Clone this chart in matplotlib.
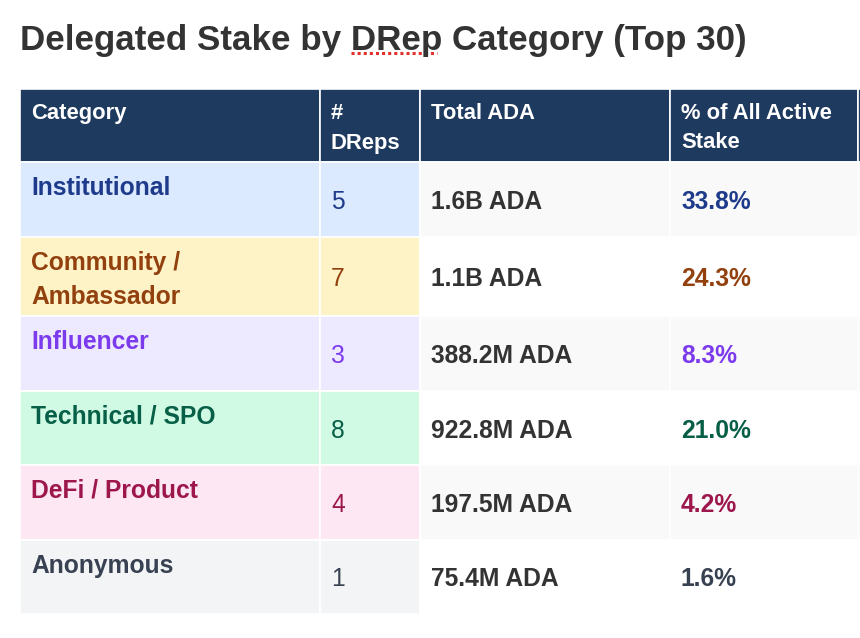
import matplotlib.pyplot as plt
from matplotlib.patches import Rectangle

plt.rcParams['font.family'] = ['Liberation Sans', 'DejaVu Sans']

# table data
categories = ["Institutional", "Community /\nAmbassador", "Influencer",
              "Technical / SPO", "DeFi / Product", "Anonymous"]
drep_counts = [5, 7, 3, 8, 4, 1]
total_ada = [1.6e9, 1.1e9, 388.2e6, 922.8e6, 197.5e6, 75.4e6]
pct_stake = [33.8, 24.3, 8.3, 21.0, 4.2, 1.6]
headers = ["Category", "#\nDReps", "Total ADA", "% of All Active\nStake", ""]

text_colors = ["#1e3a8a", "#92400e", "#7c3aed", "#065f46", "#9d174d", "#374151"]
bg_colors = ["#dbeafe", "#fef3c7", "#ede9fe", "#d1fae5", "#fce7f3", "#f3f4f6"]
header_bg = "#1e3a5f"
dark = "#333333"


def fmt_ada(v):
    if v >= 1e9:
        return f"{v / 1e9:.1f}B ADA"
    return f"{v / 1e6:.1f}M ADA"


W, H = 860, 638
fig = plt.figure(figsize=(W / 100, H / 100), dpi=100)
ax = fig.add_axes([0, 0, 1, 1])
ax.set_xlim(0, W)
ax.set_ylim(H, 0)
ax.axis("off")

# title + spellcheck squiggle under "DRep"
ax.text(20, 50, "Delegated Stake by DRep Category (Top 30)", fontsize=25.2,
        fontweight="bold", color=dark, va="baseline")
ax.plot([351, 437], [52.5, 52.5], color="#e0312b", lw=2.2, ls=(0, (1.0, 1.0)))

col_x = [20, 320, 420, 670, 858, 960]
pad = 11
header_top, header_bot = 89, 162
row_edges = [162, 237, 316, 391, 465, 540, 614]

# header
for j, h in enumerate(headers):
    x0, x1 = col_x[j], col_x[j + 1]
    ax.add_patch(Rectangle((x0, header_top), x1 - x0, header_bot - header_top,
                           facecolor=header_bg, edgecolor="white", lw=1.2))
    for k, line in enumerate(h.split("\n")):
        ax.text(x0 + pad, header_top + 30 + k * 29.5, line, fontsize=15.8,
                fontweight="bold", color="white", va="baseline")

# body
for i, cat in enumerate(categories):
    top, bot = row_edges[i], row_edges[i + 1]
    mid = (top + bot) / 2
    stripe = "#f9f9f9" if i % 2 == 0 else "white"
    fills = [bg_colors[i], bg_colors[i], stripe, stripe, stripe]
    for j in range(5):
        x0, x1 = col_x[j], col_x[j + 1]
        ax.add_patch(Rectangle((x0, top), x1 - x0, bot - top,
                               facecolor=fills[j], edgecolor="white", lw=1.2))
    for k, line in enumerate(cat.split("\n")):
        ax.text(col_x[0] + pad, top + 33 + k * 33.5, line, fontsize=17.7,
                fontweight="bold", color=text_colors[i], va="baseline")
    ax.text(col_x[1] + pad, mid + 9.5, str(drep_counts[i]), fontsize=17.7,
            color=text_colors[i], va="baseline")
    ax.text(col_x[2] + pad, mid + 9.5, fmt_ada(total_ada[i]), fontsize=17.7,
            fontweight="bold", color=dark, va="baseline")
    ax.text(col_x[3] + pad, mid + 9.5, f"{pct_stake[i]:.1f}%", fontsize=17.7,
            fontweight="bold", color=text_colors[i], va="baseline")

fig.savefig("out.png", dpi=100, facecolor="white")
